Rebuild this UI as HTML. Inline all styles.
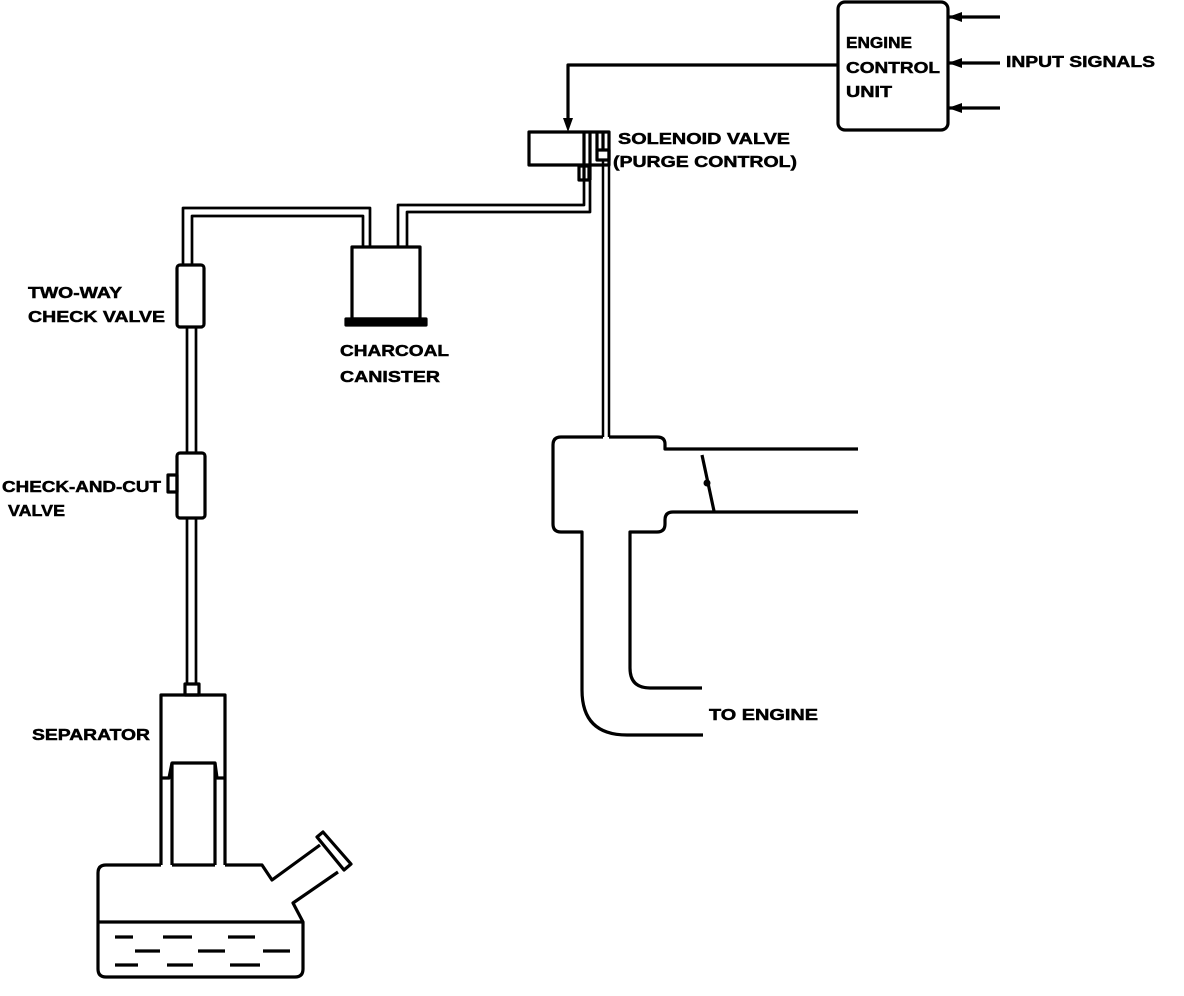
<!DOCTYPE html>
<html><head><meta charset="utf-8"><style>
html,body{margin:0;padding:0;background:#fff;}
svg{display:block;}
text{font-family:"Liberation Sans",Arial,sans-serif;font-weight:bold;font-size:16px;fill:#000;stroke:#000;stroke-width:0.5px;}
</style></head><body>
<svg width="1184" height="996" viewBox="0 0 1184 996" xmlns="http://www.w3.org/2000/svg">
<g fill="none" stroke="#000" stroke-width="3.2" stroke-linejoin="round">
<rect x="838" y="2" width="110" height="128" rx="7"/>
<line x1="948" y1="17" x2="1000" y2="17"/>
<line x1="948" y1="63" x2="1000" y2="63"/>
<line x1="948" y1="108" x2="1000" y2="108"/>
<polyline points="838,65 568,65 568,122"/>
<rect x="529" y="132" width="80" height="33"/>
<line x1="584" y1="132" x2="584" y2="180"/>
<line x1="590" y1="132" x2="590" y2="180"/>
<line x1="597" y1="132" x2="597" y2="150"/>
<line x1="603" y1="132" x2="603" y2="150"/>
<rect x="597" y="150" width="12" height="10"/>
<rect x="579" y="166" width="10" height="14"/>
<line x1="603" y1="160" x2="603" y2="437" stroke-width="2.5"/>
<line x1="609" y1="160" x2="609" y2="437" stroke-width="2.5"/>
<polyline points="590,180 590,212 407,212 407,247" stroke-width="2.7"/>
<polyline points="584,180 584,205 398,205 398,247" stroke-width="2.7"/>
<polyline points="370,247 370,208 183,208 183,265" stroke-width="2.7"/>
<polyline points="363,247 363,216 192,216 192,265" stroke-width="2.7"/>
<rect x="352" y="247" width="68" height="72"/>
<rect x="346" y="319" width="80" height="6" fill="#000"/>
<rect x="177" y="265" width="27" height="62" rx="3"/>
<line x1="187" y1="327" x2="187" y2="453" stroke-width="2.7"/>
<line x1="196" y1="327" x2="196" y2="453" stroke-width="2.7"/>
<rect x="177" y="453" width="28" height="65" rx="3"/>
<rect x="168" y="475" width="9" height="17"/>
<line x1="187" y1="518" x2="187" y2="684" stroke-width="2.7"/>
<line x1="196" y1="518" x2="196" y2="684" stroke-width="2.7"/>
<rect x="185" y="684" width="14" height="11"/>
<polyline points="161,865 161,695 225,695 225,865"/>
<polyline points="161,778 169,778 172,763 215,763 217,778 225,778"/>
<line x1="172" y1="763" x2="172" y2="865"/>
<line x1="215" y1="763" x2="215" y2="865"/>
<line x1="172" y1="865" x2="215" y2="865"/>
<path d="M161,865 L106,865 Q98,865 98,873 L98,969 Q98,977 106,977 L295,977 Q303,977 303,969 L303,922 L293,903 L338,872 M320,845 L272,880 L262,865 L225,865"/>
<polygon points="317,837 323,832 351,864 344,870"/>
<line x1="99" y1="922" x2="302" y2="922"/>
<line x1="115" y1="937" x2="133" y2="937"/><line x1="163" y1="937" x2="192" y2="937"/><line x1="228" y1="937" x2="255" y2="937"/>
<line x1="135" y1="951" x2="160" y2="951"/><line x1="198" y1="951" x2="225" y2="951"/><line x1="263" y1="951" x2="290" y2="951"/>
<line x1="115" y1="965" x2="138" y2="965"/><line x1="167" y1="965" x2="193" y2="965"/><line x1="230" y1="965" x2="260" y2="965"/>
<path d="M603,437 L561,437 Q553,437 553,445 L553,524 Q553,532 561,532 L582,532 L582,690 Q582,735 627,735 L703,735"/>
<path d="M609,437 L657,437 Q665,437 665,444 L665,449 L858,449"/>
<path d="M858,512 L673,512 Q665,512 665,520 L665,524 Q665,532 657,532 L630,532 L630,668 Q630,688 650,688 L702,688"/>
<line x1="702" y1="455" x2="714" y2="511"/>
</g>
<circle cx="707" cy="483" r="3.5" fill="#000"/>
<g fill="#000">
<polygon points="563,118 573,118 568,132"/>
<polygon points="948,17 962,12 962,22"/>
<polygon points="948,63 962,58 962,68"/>
<polygon points="948,108 962,103 962,113"/>
</g>
<text x="846" y="48" textLength="66" lengthAdjust="spacingAndGlyphs">ENGINE</text>
<text x="846" y="73" textLength="94" lengthAdjust="spacingAndGlyphs">CONTROL</text>
<text x="846" y="97" textLength="46" lengthAdjust="spacingAndGlyphs">UNIT</text>
<text x="1006" y="67" textLength="149" lengthAdjust="spacingAndGlyphs">INPUT SIGNALS</text>
<text x="618" y="144" textLength="172" lengthAdjust="spacingAndGlyphs">SOLENOID VALVE</text>
<text x="613" y="167" textLength="184" lengthAdjust="spacingAndGlyphs">(PURGE CONTROL)</text>
<text x="28" y="298" textLength="94" lengthAdjust="spacingAndGlyphs">TWO-WAY</text>
<text x="28" y="322" textLength="137" lengthAdjust="spacingAndGlyphs">CHECK VALVE</text>
<text x="340" y="356" textLength="109" lengthAdjust="spacingAndGlyphs">CHARCOAL</text>
<text x="340" y="382" textLength="100" lengthAdjust="spacingAndGlyphs">CANISTER</text>
<text x="2" y="492" textLength="159" lengthAdjust="spacingAndGlyphs">CHECK-AND-CUT</text>
<text x="8" y="516" textLength="57" lengthAdjust="spacingAndGlyphs">VALVE</text>
<text x="32" y="740" textLength="118" lengthAdjust="spacingAndGlyphs">SEPARATOR</text>
<text x="709" y="720" textLength="109" lengthAdjust="spacingAndGlyphs">TO ENGINE</text>
</svg>
</body></html>
